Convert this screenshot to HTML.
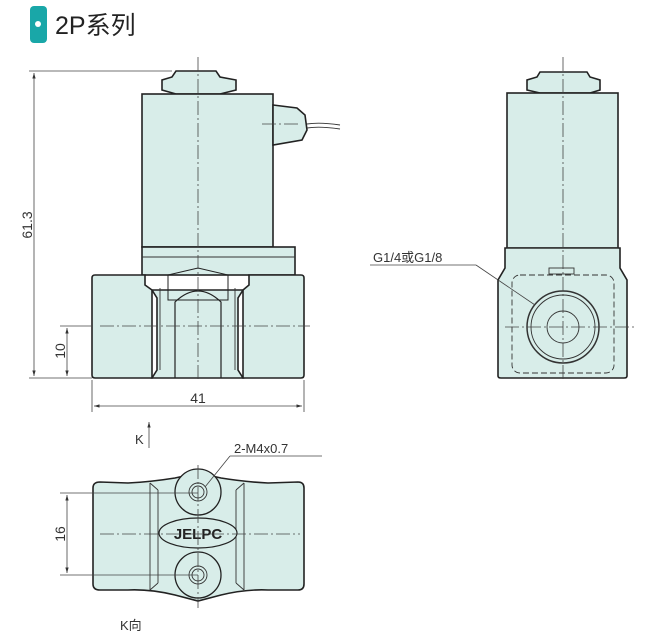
<!DOCTYPE html>
<html><head><meta charset="utf-8"><style>
html,body{margin:0;padding:0;background:#fff;}
svg{display:block;}
text{font-family:"Liberation Sans","Noto Sans CJK SC",sans-serif;fill:#333;}
</style></head><body>
<svg width="659" height="643" viewBox="0 0 659 643" xmlns="http://www.w3.org/2000/svg">
<defs>
<marker id="a" viewBox="0 0 10 10" refX="10" refY="5" markerWidth="7" markerHeight="7" orient="auto-start-reverse"><path d="M0,2 L10,5 L0,8z" fill="#333"/></marker>
</defs>
<!-- title -->
<rect x="30" y="6" width="17" height="37" rx="4" fill="#19a7a8"/>
<circle cx="38" cy="24" r="3" fill="#fff"/>
<text x="55" y="34" font-size="25" fill="#222" style="fill:#222">2P系列</text>

<g stroke="#222" stroke-width="1.6" fill="#d8ede9">
<!-- front view -->
<path d="M176,71 H216 L220,77 L236,80 V90 L220,94 H176 L162,90 V80 L172,77Z"/>
<rect x="142" y="94" width="131" height="153"/>
<path d="M273,105 L297,108 L305,115 L307,130 L302,140 L273,145Z"/>
<rect x="142" y="247" width="153" height="28"/>
<path d="M95,275 H145 V285 L152,290 V378 H95 Q92,378 92,375 V278 Q92,275 95,275Z"/>
<path d="M243,290 L249,285 V275 H301 Q304,275 304,278 V375 Q304,378 301,378 H243Z"/>
<path d="M152,290 L157,298 V370 L152,378 H243 L238,370 V298 L243,290Z"/>
<path d="M168,275 L198,268 L228,275 V300 H168Z" fill="none" stroke-width="1"/>
<path d="M175,378 V302 Q198,280 221,302 V378" fill="none" stroke-width="1.2"/>
<!-- right view -->
<path d="M540,72 H587 L590,77 L600,80 V90 L590,93 H540 L527,90 V80 L537,77Z"/>
<rect x="507" y="93" width="111" height="155"/>
<path d="M505,248 H620 V268 L627,280 V376 Q627,378 624,378 H501 Q498,378 498,376 V280 L505,268Z"/>
<!-- bottom view -->
<path d="M100,482 L128,483 Q150,482 175,478 L198,473 L221,478 Q246,482 268,483 L298,482 Q304,482 304,488 V584 Q304,590 298,590 L268,590 Q246,589 221,595 L198,601 L175,595 Q150,589 128,590 L100,590 Q93,590 93,584 V488 Q93,482 100,482Z"/>
</g>
<g stroke="#333" stroke-width="0.9" fill="none">
<line x1="142" y1="257" x2="295" y2="257"/>
<line x1="160" y1="288" x2="160" y2="370"/><line x1="235" y1="288" x2="235" y2="370"/>
<path d="M307,124 Q320,122 340,125 M307,128 Q320,126 340,129"/>
<line x1="507" y1="248" x2="618" y2="248"/>
<rect x="512" y="275" width="102" height="98" rx="8" stroke-dasharray="6 3"/>
<circle cx="563" cy="327" r="36" stroke-width="1.5"/>
<circle cx="563" cy="327" r="32"/>
<circle cx="563" cy="327" r="16"/>
<rect x="549" y="268" width="25" height="6"/>
<!-- bottom view details -->
<line x1="150" y1="483" x2="150" y2="590"/><line x1="244" y1="483" x2="244" y2="590"/>
<line x1="150" y1="483" x2="158" y2="490"/><line x1="244" y1="483" x2="236" y2="490"/>
<line x1="150" y1="590" x2="158" y2="583"/><line x1="244" y1="590" x2="236" y2="583"/>
<line x1="158" y1="490" x2="158" y2="583"/><line x1="236" y1="490" x2="236" y2="583"/>
<circle cx="198" cy="492" r="23" fill="#d8ede9" stroke="#222" stroke-width="1.3"/>
<circle cx="198" cy="575" r="23" fill="#d8ede9" stroke="#222" stroke-width="1.3"/>
<circle cx="198" cy="492" r="9"/><circle cx="198" cy="492" r="6"/>
<circle cx="198" cy="575" r="9"/><circle cx="198" cy="575" r="6"/>
<ellipse cx="198" cy="533" rx="39" ry="15" fill="#d8ede9" stroke="#222" stroke-width="1.2"/>
</g>
<text x="198" y="539" font-size="15" font-weight="bold" text-anchor="middle" style="fill:#222">JELPC</text>
<!-- centerlines -->
<g stroke="#444" stroke-width="0.8" stroke-dasharray="14 3 2 3" fill="none">
<line x1="198" y1="57" x2="198" y2="382"/>
<line x1="100" y1="326" x2="310" y2="326"/>
<line x1="563" y1="57" x2="563" y2="380"/>
<line x1="505" y1="327" x2="635" y2="327"/>
<line x1="262" y1="124" x2="300" y2="124"/>
<line x1="198" y1="465" x2="198" y2="608"/>
<line x1="100" y1="534" x2="300" y2="534"/>
</g>
<!-- dimensions -->
<g stroke="#444" stroke-width="0.8" fill="none">
<line x1="29" y1="71" x2="172" y2="71"/>
<line x1="29" y1="378" x2="92" y2="378"/>
<line x1="34" y1="73" x2="34" y2="376" marker-start="url(#a)" marker-end="url(#a)"/>
<line x1="60" y1="326" x2="92" y2="326"/>
<line x1="67" y1="328" x2="67" y2="376" marker-start="url(#a)" marker-end="url(#a)"/>
<line x1="92" y1="380" x2="92" y2="412"/><line x1="304" y1="380" x2="304" y2="412"/>
<line x1="94" y1="406" x2="302" y2="406" marker-start="url(#a)" marker-end="url(#a)"/>
<line x1="370" y1="265" x2="476" y2="265"/><line x1="476" y1="265" x2="535" y2="305"/>
<line x1="230" y1="456" x2="322" y2="456"/><line x1="230" y1="456" x2="205" y2="487"/>
<line x1="60" y1="493" x2="198" y2="493"/><line x1="60" y1="575" x2="198" y2="575"/>
<line x1="67" y1="495" x2="67" y2="573" marker-start="url(#a)" marker-end="url(#a)"/>
<line x1="149" y1="448" x2="149" y2="422" marker-end="url(#a)"/>
</g>
<text font-size="14" transform="translate(32,225) rotate(-90)" text-anchor="middle">61.3</text>
<text font-size="14" transform="translate(65,351) rotate(-90)" text-anchor="middle">10</text>
<text font-size="14" transform="translate(65,534) rotate(-90)" text-anchor="middle">16</text>
<text x="198" y="403" font-size="14" text-anchor="middle">41</text>
<text x="373" y="262" font-size="13">G1/4或G1/8</text>
<text x="234" y="453" font-size="13">2-M4x0.7</text>
<text x="135" y="444" font-size="13">K</text>
<text x="120" y="630" font-size="13">K向</text>
</svg>
</body></html>
